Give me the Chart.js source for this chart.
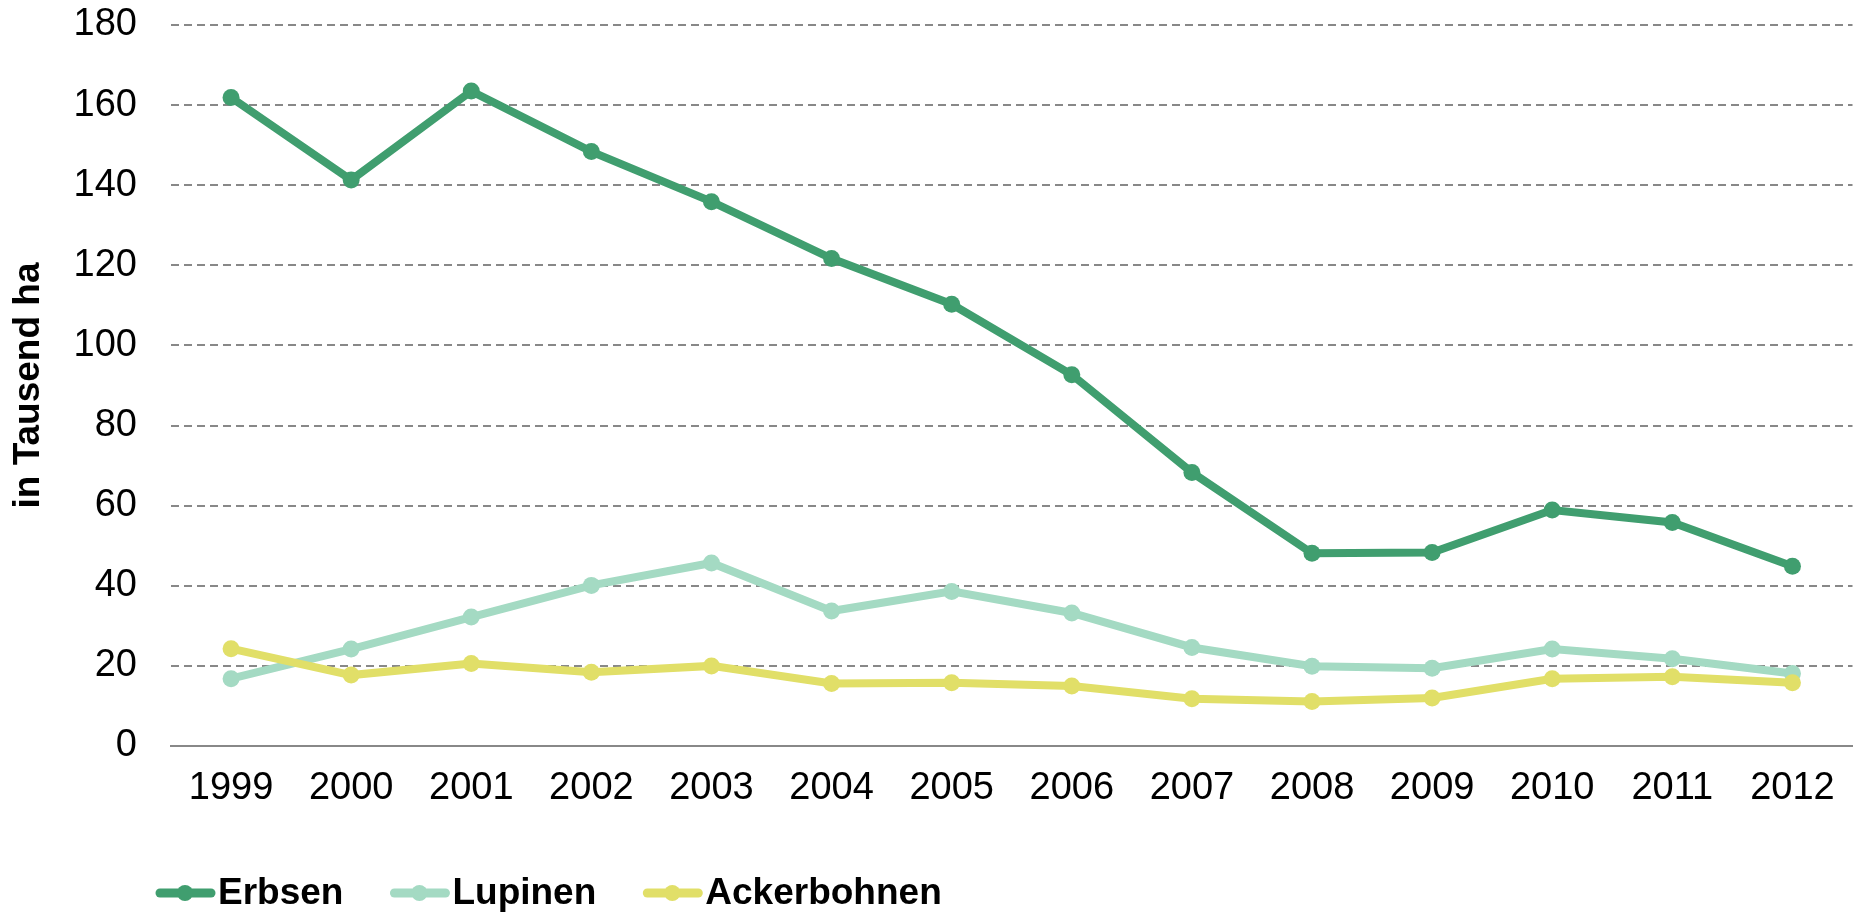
<!DOCTYPE html>
<html>
<head>
<meta charset="utf-8">
<script src="https://cdn.jsdelivr.net/npm/chart.js@4/dist/chart.umd.min.js"></script>
<style>
  html, body { margin: 0; padding: 0; background: #fff; }
  #wrap { width: 1861px; height: 913px; }
</style>
</head>
<body>
<div id="wrap"><canvas id="anbau"></canvas></div>
<script>
// Anbauflaeche in Tausend ha
var years = ['1999','2000','2001','2002','2003','2004','2005','2006','2007','2008','2009','2010','2011','2012'];
var erbsen = [161.9, 141.3, 163.5, 148.4, 135.9, 121.7, 110.3, 92.7, 68.3, 48.1, 48.3, 58.9, 55.8, 44.9];
var lupinen = [16.8, 24.2, 32.2, 40.1, 45.7, 33.7, 38.6, 33.2, 24.6, 19.9, 19.4, 24.2, 21.8, 18.1];
var ackerbohnen = [24.3, 17.7, 20.6, 18.4, 20.0, 15.6, 15.8, 15.0, 11.8, 11.1, 12.0, 16.8, 17.3, 15.8];

var fontFam = '"Liberation Sans", Arial, sans-serif';

// legend: line with dot, drawn below the axis
var lineLegend = {
  id: 'lineLegend',
  afterDraw: function(chart) {
    var ctx = chart.ctx;
    var x = 155, y = 893;
    ctx.save();
    ctx.font = 'bold 37px ' + fontFam;
    ctx.textBaseline = 'middle';
    chart.data.datasets.forEach(function(ds) {
      ctx.strokeStyle = ds.borderColor;
      ctx.lineWidth = 9;
      ctx.lineCap = 'round';
      ctx.beginPath();
      ctx.moveTo(x + 5, y);
      ctx.lineTo(x + 56, y);
      ctx.stroke();
      ctx.fillStyle = ds.borderColor;
      ctx.beginPath();
      ctx.arc(x + 30, y, 8, 0, Math.PI * 2);
      ctx.fill();
      ctx.fillStyle = '#000';
      ctx.fillText(ds.label, x + 63, y + 1);
      x += 63 + ctx.measureText(ds.label).width + 46;
    });
    ctx.restore();
  }
};

function line(label, data, color, order) {
  return {
    label: label,
    data: data,
    borderColor: color,
    backgroundColor: color,
    borderWidth: 8,
    pointRadius: 8.5,
    pointHoverRadius: 8.5,
    pointBorderWidth: 0,
    fill: false,
    tension: 0,
    order: order
  };
}

var chart = new Chart('anbau', {
  type: 'line',
  plugins: [lineLegend],
  data: {
    labels: years,
    datasets: [
      line('Erbsen', erbsen, '#409E6F', 2),
      line('Lupinen', lupinen, '#A4DAC3', 1),
      line('Ackerbohnen', ackerbohnen, '#E1DF68', 0)
    ]
  },
  options: {
    responsive: true,
    maintainAspectRatio: false,
    animation: false,
    layout: { padding: { top: 25, right: 0, bottom: 87, left: 0 } },
    plugins: {
      legend: { display: false },
      tooltip: { enabled: false }
    },
    scales: {
      x: {
        offset: true,
        grid: { display: false, drawTicks: false },
        border: { display: true, color: '#888888', width: 2 },
        ticks: { color: '#000', padding: 20, font: { family: fontFam, size: 38 } },
        afterFit: function(scale) { scale.height = 80; }
      },
      y: {
        min: 0,
        max: 180,
        ticks: { stepSize: 20, color: '#000', padding: 0, font: { family: fontFam, size: 38 } },
        grid: {
          drawTicks: true,
          tickLength: 34,
          tickColor: 'rgba(0,0,0,0)',
          lineWidth: 2,
          color: function(c) { return c.tick && c.tick.value === 0 ? 'rgba(0,0,0,0)' : '#888888'; }
        },
        border: { display: false, dash: [8, 5] },
        title: {
          display: true,
          text: 'in Tausend ha',
          color: '#000',
          padding: { top: 7, bottom: 0 },
          font: { family: fontFam, size: 37, weight: 'bold' }
        },
        afterFit: function(scale) { scale.width = 171; }
      }
    }
  }
});
</script>
</body>
</html>
